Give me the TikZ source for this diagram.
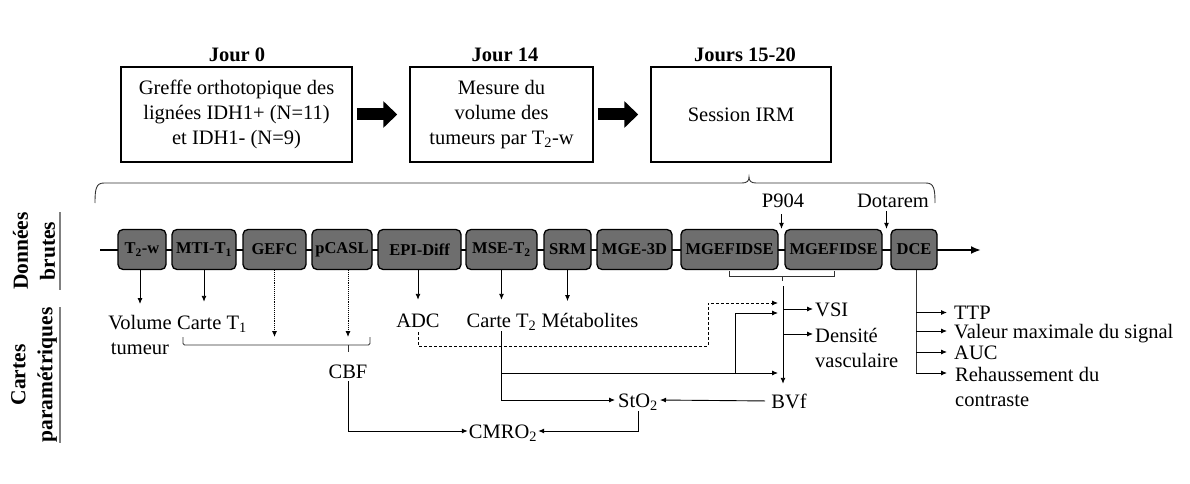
\documentclass[tikz,border=0pt]{standalone}
\usepackage{fontspec}
\setmainfont{Liberation Serif}
\usetikzlibrary{arrows.meta,calc}
\definecolor{boxgray}{RGB}{110,110,110}
\definecolor{linegray}{RGB}{50,50,50}
\begin{document}
\begin{tikzpicture}[x=1pt,y=-1pt,
  every node/.style={inner sep=1pt},
  big/.style={font=\fontsize{20.5}{25}\selectfont},
  head/.style={font=\fontsize{20.5}{25}\selectfont\bfseries},
  lbl/.style={big, text height=14pt, text depth=0pt},
  mlbl/.style={big},
  stage/.style={draw, line width=1.5pt, big, align=center, minimum height=95pt},
  seqbox/.style={draw, line width=1.3pt, rounded corners=5pt, fill=boxgray,
    font=\fontsize{16.5}{18}\selectfont\bfseries, minimum height=40pt, inner sep=0pt},
  side/.style={font=\fontsize{21.5}{27}\selectfont\bfseries, align=center, rotate=90},
  arr/.style={draw=black, line width=0.9pt, -{Latex[length=6pt,width=5pt]}},
  plain/.style={draw=linegray, line width=0.9pt},
  dotarr/.style={arr, densely dotted},
  dasharr/.style={arr, dash pattern=on 3pt off 2pt},
  bigarr/.style={line width=12pt, -{Triangle[length=14pt,width=26pt]}, shorten <=4pt, shorten >=12pt},
  timeline/.style={line width=2pt, -{Latex[length=10pt,width=8pt]}},
  sideline/.style={draw=gray, line width=1.6pt}
]
\useasboundingbox (0,0) rectangle (1190,484);

% ---- top stages
\node[stage, minimum width=231pt] (s1) at (236.5,114.5) {Greffe orthotopique des\\lignées IDH1+ (N=11)\\et IDH1- (N=9)};
\node[stage, minimum width=183pt] (s2) at (501.5,114.5) {Mesure du\\volume des\\tumeurs par T\textsubscript{2}-w};
\node[stage, minimum width=180pt] (s3) at (741,114.5) {Session IRM};
\node[head, anchor=base] (h1) at (237,62) {Jour 0};
\node[head, anchor=base] (h2) at (505,62) {Jour 14};
\node[head, anchor=base] (h3) at (745,62) {Jours 15-20};
\draw[bigarr] (s1.east) -- (s2.west);
\draw[bigarr] (s2.east) -- (s3.west);

% ---- brace
\draw[plain] (95,203) .. controls (95,189) and (96,183) .. (104,183) -- (742,183)
  .. controls (747,183) and (749,181) .. (749,177)
  .. controls (749,181) and (751,183) .. (756,183) -- (926,183)
  .. controls (934,183) and (935,189) .. (935,203);

% ---- side labels
\node[side] (db) at (34,251) {Données\\brutes};
\node[side] (cp) at (34,375) {Cartes\\paramétriques};
\draw[sideline] (60,212) -- (60,290);
\draw[sideline] (60,307) -- (60,443);

% ---- timeline
\coordinate (tstart) at (100,250);
\coordinate (tend) at (981,250);
\draw[timeline] (tstart) -- (tend);
\node[seqbox, minimum width=48pt] (t2w) at (142,249.5) {T\textsubscript{2}-w};
\node[seqbox, minimum width=64pt] (mti) at (204,249.5) {MTI-T\textsubscript{1}};
\node[seqbox, minimum width=63pt] (gefc) at (274.5,249.5) {GEFC};
\node[seqbox, minimum width=60pt] (pcasl) at (342,249.5) {pCASL};
\node[seqbox, minimum width=83pt] (epi) at (419.5,249.5) {EPI-Diff};
\node[seqbox, minimum width=71pt] (mse) at (501.5,249.5) {MSE-T\textsubscript{2}};
\node[seqbox, minimum width=47pt] (srm) at (567.5,249.5) {SRM};
\node[seqbox, minimum width=75pt] (mge) at (634.5,249.5) {MGE-3D};
\node[seqbox, minimum width=97pt] (mgf1) at (729.5,249.5) {MGEFIDSE};
\node[seqbox, minimum width=97pt] (mgf2) at (833.5,249.5) {MGEFIDSE};
\node[seqbox, minimum width=46pt] (dce) at (914,249.5) {DCE};

% ---- injections
\node[lbl] (p904) at (783,200) {P904};
\node[lbl] (dot) at (893,200) {Dotarem};
\coordinate (gap1) at ($(mgf1.north east)!0.5!(mgf2.north west)$);
\coordinate (gap2) at ($(mgf2.north east)!0.5!(dce.north west)$);
\draw[arr, shorten <=6pt] (p904.south -| gap1) -- (gap1);
\draw[arr, shorten <=3pt] (dot.south -| gap2) -- (gap2);

% ---- output labels
\node[mlbl, align=center, anchor=north] (vol) at (140,314) {Volume\\tumeur};
\node[lbl] (carte1) at (212,322) {Carte T\textsubscript{1}};
\node[lbl] (adc) at (418,320) {ADC};
\node[lbl] (carte2) at (501.5,320) {Carte T\textsubscript{2}};
\node[lbl] (metab) at (590,320) {Métabolites};
\node[lbl] (cbf) at (348,371) {CBF};
\node[lbl, anchor=west] (vsi) at (814,309) {VSI};
\node[mlbl, align=left, anchor=north west] (dens) at (814,327) {Densité\\vasculaire};
\node[lbl] (bvf) at (789,401) {BVf};
\node[lbl] (sto) at (638,400) {StO\textsubscript{2}};
\node[lbl] (cmro) at (503,431) {CMRO\textsubscript{2}};
\node[lbl, anchor=west] (ttp) at (953,312.5) {TTP};
\node[lbl, anchor=west] (val) at (953,331) {Valeur maximale du signal};
\node[lbl, anchor=west] (auc) at (953,352) {AUC};
\node[mlbl, align=left, anchor=north west] (reh) at (954,366) {Rehaussement du\\contraste};

% ---- arrows from boxes
\draw[arr, shorten >=10pt] (t2w.south -| vol.north) -- (vol.north);
\draw[arr, shorten >=12pt] (mti.south) -- (mti.south |- carte1.north);
\draw[arr, shorten >=12pt] (epi.south -| adc.north) -- (adc.north);
\draw[arr, shorten >=12pt] (mse.south) -- (carte2.north);
\draw[arr] (srm.south) -- ++(0,31);

% CBF bracket
\coordinate (brL) at (183,345);
\coordinate (brR) at (370,345);
\coordinate (brtop) at (0,337);
\draw[plain, rounded corners=1.5pt] (brL |- brtop) -- (brL) -- (brR) -- (brR |- brtop);
\draw[plain] (cbf.north |- brL) -- ++(0,7);
\draw[dotarr] (gefc.south) -- (gefc.south |- brtop);
\draw[dotarr] (pcasl.south -| cbf.north) -- (cbf.north |- brtop);

% MGEFIDSE bracket and vertical bus
\draw[plain] (729,271) -- (729,276) -- (834,276) -- (834,271);
\draw[plain] (782,276) -- (782,281);
\coordinate (mgtop) at (783,286);
\draw[arr, shorten >=9pt] (mgtop) -- (mgtop |- bvf.north);
\draw[arr, shorten >=1pt] (mgtop |- vsi.west) -- (vsi.west);
\coordinate (densin) at ($(dens.north west)+(0,7)$);
\draw[arr, shorten >=1pt] (mgtop |- densin) -- (densin);

% inputs to the bus
\coordinate (mgin1) at (783,303);
\coordinate (mgin2) at (783,313);
\coordinate (mgin3) at (783,373);
\coordinate (adcbend) at (708,346);
\draw[dasharr, shorten <=4pt, shorten >=5pt] (adc.south) |- (adcbend) |- (mgin1);
\coordinate (c2j) at (carte2.south |- mgin3);
\coordinate (c2k) at (735,373);
\draw[arr, shorten <=3pt, shorten >=2pt] (carte2.south) |- (sto.west);
\draw[arr, shorten >=5pt] (c2j) -- (mgin3);
\draw[arr, shorten >=5pt] (c2k) |- (mgin2);

% StO2, CMRO2
\draw[arr, shorten <=5pt, shorten >=1pt] (bvf.west) -- (sto.east);
\draw[arr, shorten <=3pt] (sto.south) |- (cmro.east);
\draw[arr, shorten <=2pt] (cbf.south) |- (cmro.west);

% DCE outputs
\coordinate (rehin) at ($(reh.north west)+(0,7)$);
\coordinate (dcex) at (916,0);
\draw[plain] (dce.south -| dcex) -- (dcex |- rehin);
\draw[arr, shorten >=6pt] (dcex |- ttp.west) -- (ttp.west);
\draw[arr, shorten >=6pt] (dcex |- val.west) -- (val.west);
\draw[arr, shorten >=6pt] (dcex |- auc.west) -- (auc.west);
\draw[arr, shorten >=7pt] (dcex |- rehin) -- (rehin);
\end{tikzpicture}
\end{document}
